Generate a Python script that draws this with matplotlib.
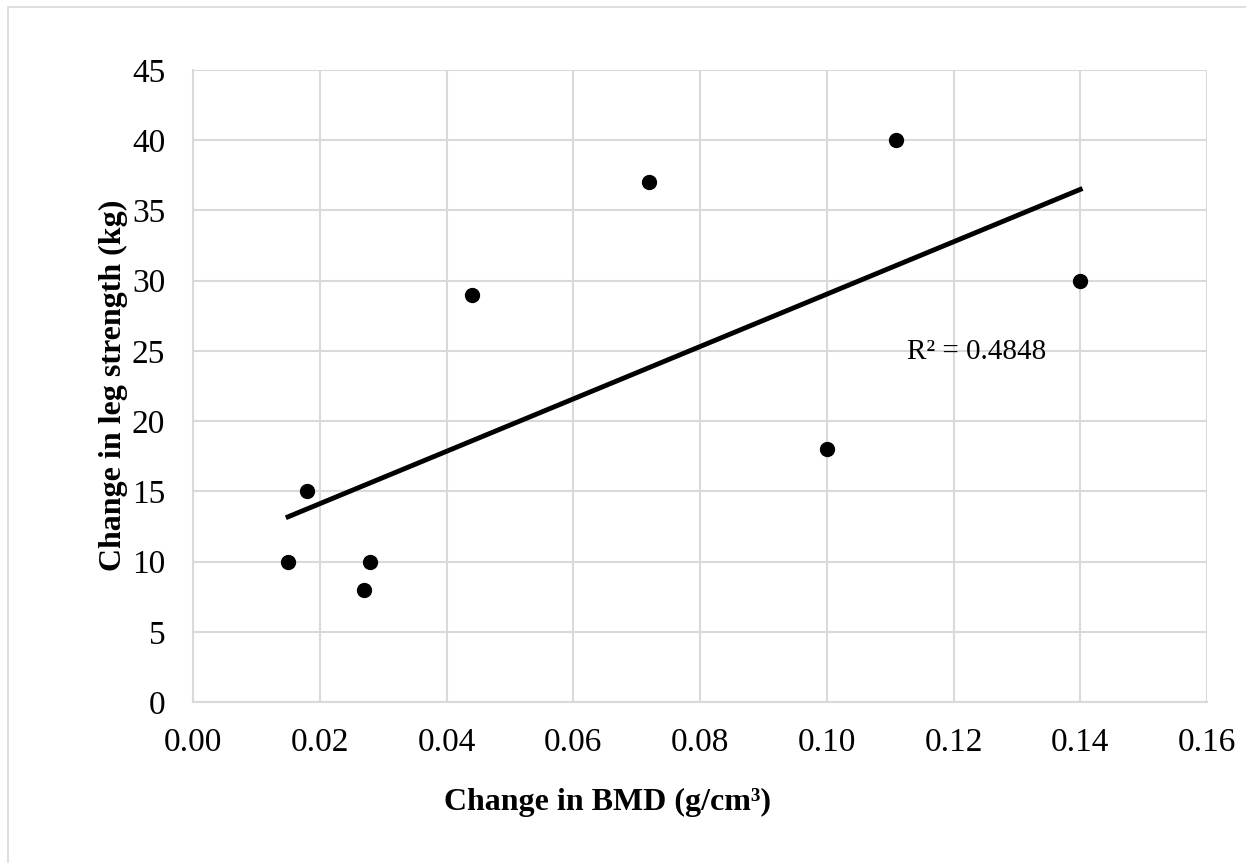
import numpy as np
import matplotlib.pyplot as plt
from matplotlib.patches import Rectangle

plt.rcParams['font.family'] = ['Liberation Serif', 'DejaVu Serif']

# data
bmd_change = [0.015, 0.018, 0.027, 0.028, 0.044, 0.072, 0.100, 0.111, 0.140]
leg_change = [10, 15, 8, 10, 29, 37, 18, 40, 30]
r2_label = "R² = 0.4848"

fig = plt.figure(figsize=(12.46, 8.63), dpi=100)
ax = fig.add_axes([193/1246, 1 - 702/863, (1207-193)/1246, (702-70)/863])

# outer chart border
fig.patches.append(Rectangle((8/1246, -0.01), 1.0, 1 - 7/863 + 0.01,
                             transform=fig.transFigure, fill=False,
                             edgecolor='#d9d9d9', linewidth=1.2))

ax.scatter(bmd_change, leg_change, s=100, color='black', zorder=3)

# linear trendline
x = np.array(bmd_change)
y = np.array(leg_change)
m, b = np.polyfit(x, y, 1)
xs = np.array([x.min(), x.max()])
ax.plot(xs, m*xs + b, color='black', linewidth=3.5, zorder=2)

ax.text(0.1127, 24.9, r2_label, fontsize=21, va='center', ha='left')

ax.set_xlim(0, 0.16)
ax.set_ylim(0, 45)
ax.set_xticks(np.arange(0, 0.161, 0.02))
ax.set_yticks(np.arange(0, 46, 5))
ax.set_xticklabels([f"{v:.2f}" for v in np.arange(0, 0.161, 0.02)])
ax.tick_params(labelsize=24, length=0)
ax.tick_params(axis='y', pad=20)
ax.tick_params(axis='x', pad=18)
ax.grid(True, color='#d9d9d9', linewidth=1.5)
ax.set_axisbelow(True)
for s in ax.spines.values():
    s.set_visible(False)
ax.spines['left'].set_visible(True)
ax.spines['bottom'].set_visible(True)
ax.spines['left'].set_color('#d9d9d9')
ax.spines['bottom'].set_color('#d9d9d9')
ax.spines['left'].set_linewidth(1.5)
ax.spines['bottom'].set_linewidth(1.5)

fig.text(607/1246, 1 - 802/863, "Change in BMD (g/cm³)", fontsize=23,
         fontweight='bold', ha='center', va='center')
fig.text(113/1246, 1 - 385/863, "Change in leg strength (kg)", fontsize=23,
         fontweight='bold', ha='center', va='center', rotation=90)

fig.savefig('out.png', dpi=100)
